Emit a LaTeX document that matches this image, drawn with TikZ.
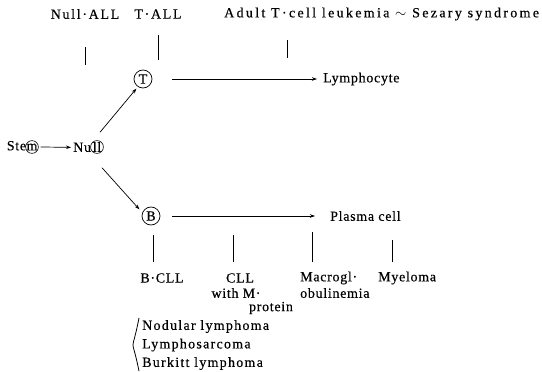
\documentclass[tikz,border=0pt]{standalone}
\usepackage{fontspec}
\setmainfont{Liberation Serif}[LetterSpace=5.0, FakeBold=0.4]
\usepackage{tikz}
\usetikzlibrary{arrows.meta, positioning}

\begin{document}
\begin{tikzpicture}[x=1pt, y=-1pt,
  lbl/.style={font=\fontsize{14}{17}\selectfont, inner sep=0pt, align=left},
  wide/.style={font=\fontsize{14}{17}\selectfont\addfontfeature{LetterSpace=12.0}},
  wider/.style={font=\fontsize{14}{17}\selectfont\addfontfeature{LetterSpace=16.5}},
  cell/.style={draw, circle, inner sep=0pt, minimum size=18pt, line width=0.7pt,
               font=\fontsize{14}{17}\selectfont},
  small/.style={draw, circle, inner sep=0pt, minimum size=12pt, line width=0.6pt,
                font=\fontsize{14}{17}\selectfont},
  tick/.style={line width=0.9pt},
  arr/.style={-{Stealth[length=5pt, width=3.5pt]}, line width=0.7pt}]
\useasboundingbox (0,0) rectangle (542,372);
% top row of T-cell diseases
\node[lbl, wide] (nullall) at (85,14) {Null·ALL};
\node[lbl, wide] (tall) at (158,14) {T·ALL};
\node[lbl, wider, anchor=west] (atl) at (224,14) {Adult T·cell leukemia $\sim$ Sezary syndrome};
\draw[tick] ([yshift=-33pt]nullall.center) -- ([yshift=-51pt]nullall.center);
\draw[tick] ([yshift=-21pt]tall.center) -- ([yshift=-46pt]tall.center);
\draw[tick] ([xshift=63pt, yshift=-26pt]atl.west) -- ([xshift=63pt, yshift=-44pt]atl.west);
% cells
\node[small] (stem) at (32,147) {m};
\node[lbl, anchor=base east, xshift=1pt] (ste) at (stem.base west) {Ste};
\node[small] (null) at (97,147) {ll};
\node[lbl, anchor=base east, xshift=1pt] (nu) at (null.base west) {Nu};
\node[cell] (T) at (143,79) {T};
\node[cell] (B) at (151,216) {B};
\node[lbl, anchor=west] (lymph) at (323,79) {Lymphocyte};
\node[lbl, anchor=west] (plasma) at (330,216) {Plasma cell};
\draw[arr] ([xshift=2pt]stem.east) -- ([xshift=-2pt]nu.west);
\draw[arr] ([shift={(3pt,8pt)}]null.north) -- ([yshift=-3pt]T.south west);
\draw[arr] ([shift={(5pt,-14pt)}]null.south) -- ([xshift=-5pt]B.north west);
\draw[arr] ([xshift=20pt]T.east) -- ([xshift=-6pt]lymph.west);
\draw[arr] ([xshift=12pt]B.east) -- ([xshift=-15pt]plasma.west);
% bottom row of B-cell diseases
\node[lbl] (bcll) at (162,278) {B·CLL};
\node[lbl] (cll) at (240,278) {CLL};
\node[lbl] (withm) at (236,293) {with M·};
\node[lbl] (prot) at (271,308) {protein};
\node[lbl, anchor=west] (macro) at (300,278) {Macrogl·};
\node[lbl, anchor=west] (obul) at (300,293) {obulinemia};
\node[lbl, anchor=west] (myel) at (378,278) {Myeloma};
\draw[tick] ([xshift=-9pt, yshift=43pt]bcll.center) -- ([xshift=-9pt, yshift=16pt]bcll.center);
\draw[tick] ([xshift=-7pt, yshift=43pt]cll.center) -- ([xshift=-7pt, yshift=16pt]cll.center);
\draw[tick] ([xshift=12pt, yshift=46pt]macro.west) -- ([xshift=12pt, yshift=16pt]macro.west);
\draw[tick] ([xshift=14pt, yshift=38pt]myel.west) -- ([xshift=14pt, yshift=16pt]myel.west);
% lymphoma group
\node[lbl, anchor=north west, font=\fontsize{14}{18.5}\selectfont\addfontfeature{LetterSpace=9.0}]
  (lymgrp) at (142,320) {Nodular lymphoma\\Lymphosarcoma\\Burkitt lymphoma};
\draw[line width=0.8pt] ([shift={(-3pt,2pt)}]lymgrp.north west)
  .. controls ([shift={(-11pt,-14pt)}]lymgrp.west) and ([shift={(-11pt,14pt)}]lymgrp.west)
  .. ([shift={(-3pt,-1pt)}]lymgrp.south west);
\end{tikzpicture}
\end{document}
